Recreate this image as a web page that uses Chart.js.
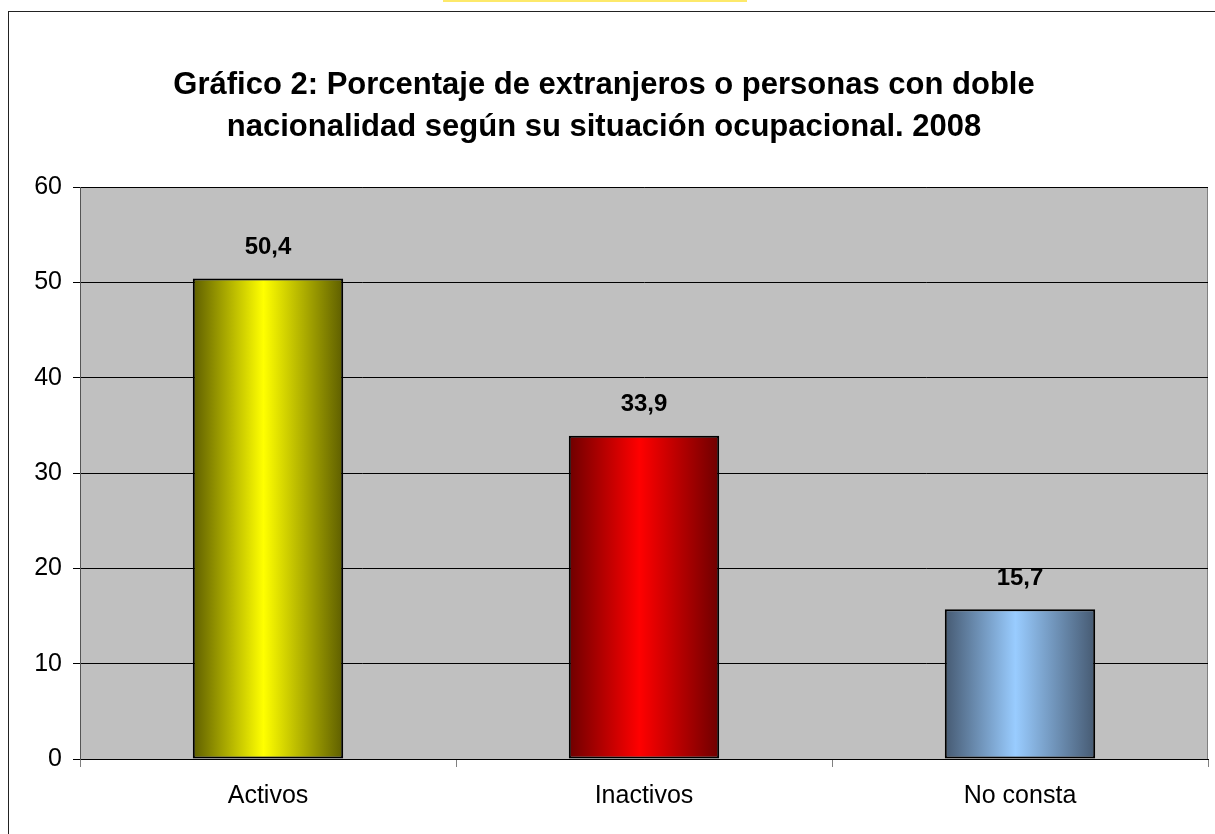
<!DOCTYPE html>
<html>
<head>
<meta charset="utf-8">
<script src="https://cdn.jsdelivr.net/npm/chart.js@4.4.0/dist/chart.umd.min.js"></script>
<style>
  html, body { margin: 0; padding: 0; background: #fff; overflow: hidden; }
  #wrap { position: relative; width: 1215px; height: 834px; }
  #frame { position: absolute; left: 8px; top: 11px; width: 1300px; height: 900px; border: 1px solid #222; }
  #strip { position: absolute; left: 443px; top: 0; width: 304px; height: 2px; background: #fde96a; }
  canvas { position: absolute; left: 0; top: 0; }
</style>
</head>
<body>
<div id="wrap">
  <div id="strip"></div>
  <div id="frame"></div>
  <canvas id="chart" width="1215" height="834"></canvas>
</div>
<script>
// ===== Data =====
const categories = ["Activos", "Inactivos", "No consta"];
const values = [50.4, 33.9, 15.7];
const yTicks = [0, 10, 20, 30, 40, 50, 60];

// gradient stops per bar: [edge, center]
const barColors = [
  ["#5e5e00", "#ffff00"],
  ["#6e0000", "#ff0000"],
  ["#465a72", "#99ccff"],
];

const FONT = "'Liberation Sans', Arial, sans-serif";

// plot background + border
const plotBg = {
  id: "plotBg",
  beforeDraw(chart) {
    const { ctx, chartArea: a } = chart;
    ctx.save();
    ctx.fillStyle = "#c0c0c0";
    ctx.fillRect(a.left, a.top, a.right - a.left, a.bottom - a.top);
    ctx.strokeStyle = "#808080";
    ctx.lineWidth = 1;
    ctx.strokeRect(a.left + 0.5, a.top + 0.5, a.right - a.left - 1, a.bottom - a.top);
    ctx.restore();
  },
};

// horizontal gradients on bars (each bar gets its own options object)
const barGradient = {
  id: "barGradient",
  beforeDatasetsDraw(chart) {
    const { ctx } = chart;
    chart.getDatasetMeta(0).data.forEach((bar, i) => {
      const l = bar.x - bar.width / 2;
      const r = bar.x + bar.width / 2;
      const g = ctx.createLinearGradient(l, 0, r, 0);
      g.addColorStop(0, barColors[i][0]);
      g.addColorStop(0.47, barColors[i][1]);
      g.addColorStop(1, barColors[i][0]);
      bar.options = Object.assign({}, bar.options, { backgroundColor: g });
    });
  },
};

// value labels above bars
const valueLabels = {
  id: "valueLabels",
  afterDatasetsDraw(chart) {
    const { ctx } = chart;
    ctx.save();
    ctx.font = "bold 24px " + FONT;
    ctx.fillStyle = "#000";
    ctx.textAlign = "center";
    ctx.textBaseline = "middle";
    chart.getDatasetMeta(0).data.forEach((bar, i) => {
      ctx.fillText(values[i].toFixed(1).replace(".", ","), bar.x, bar.y - 31);
    });
    ctx.restore();
  },
};

new Chart(document.getElementById("chart"), {
  type: "bar",
  data: {
    labels: categories,
    datasets: [
      {
        data: values,
        backgroundColor: "#ffff00",
        borderColor: "#000",
        borderWidth: 2,
        borderSkipped: false,
        barPercentage: 0.4,
        categoryPercentage: 1,
      },
    ],
  },
  options: {
    responsive: false,
    animation: false,
    layout: { padding: { left: 0, right: 7, top: 0, bottom: 0 } },
    plugins: {
      legend: { display: false },
      tooltip: { enabled: false },
      title: {
        display: true,
        text: [
          "Gráfico 2: Porcentaje de extranjeros o personas con doble",
          "nacionalidad según su situación ocupacional. 2008",
        ],
        color: "#000",
        font: { family: FONT, size: 31, weight: "bold", lineHeight: 1.355 },
        padding: { top: 64, bottom: 39 },
      },
    },
    scales: {
      x: {
        afterFit: (s) => { s.height = 75; },
        grid: {
          offset: true,
          drawOnChartArea: false,
          drawTicks: true,
          tickLength: 8,
          color: "#808080",
        },
        border: { color: "#000", width: 1 },
        ticks: { color: "#000", font: { family: FONT, size: 25 }, padding: 14 },
      },
      y: {
        min: 0,
        max: 60,
        afterFit: (s) => { s.width = 80; },
        afterBuildTicks: (s) => { s.ticks = yTicks.map((v) => ({ value: v })); },
        grid: { color: "#000", lineWidth: 1, tickLength: 7 },
        border: { color: "#555", width: 1 },
        ticks: { color: "#000", font: { family: FONT, size: 25 }, padding: 11 },
      },
    },
  },
  plugins: [plotBg, barGradient, valueLabels],
});
</script>
</body>
</html>
